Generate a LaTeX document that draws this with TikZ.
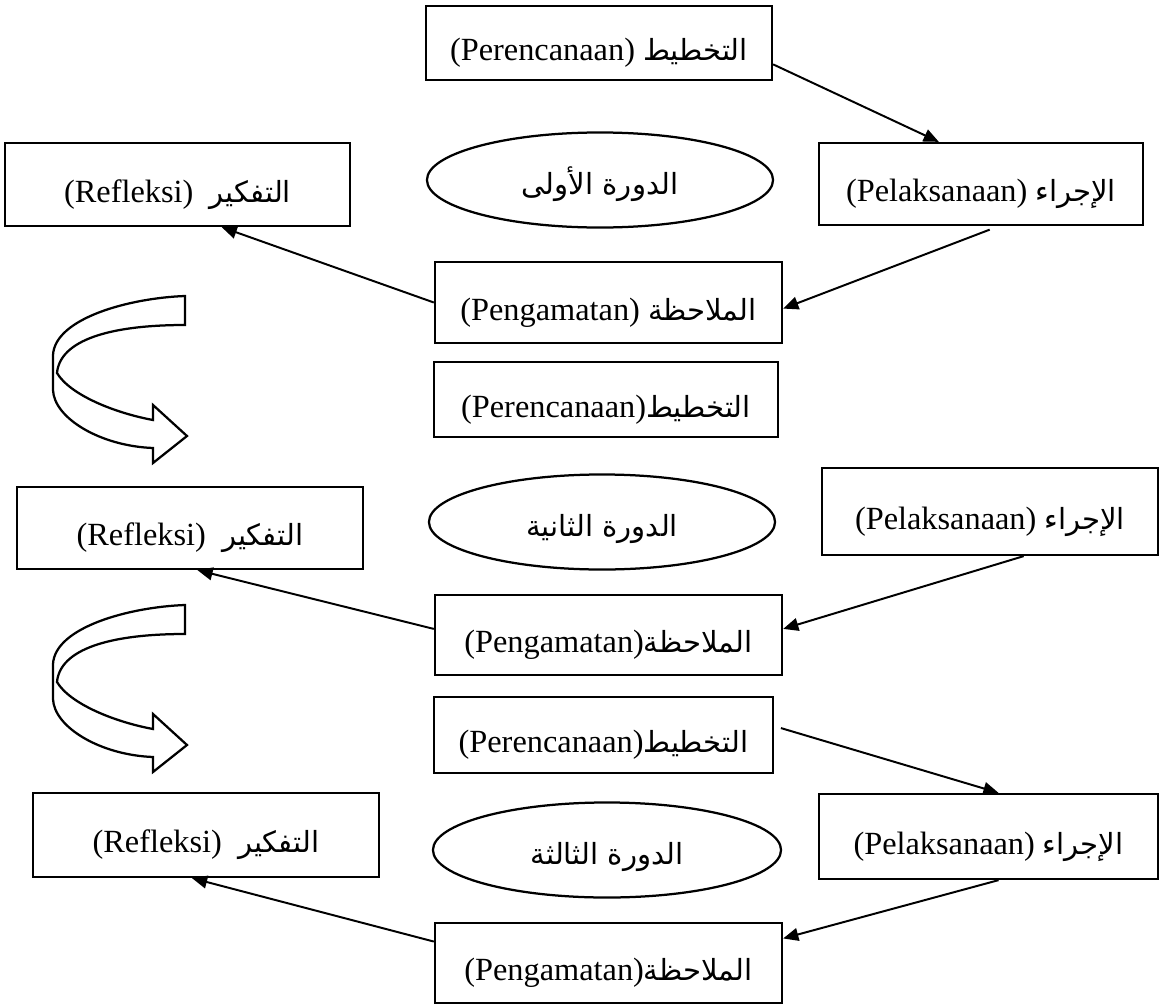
\documentclass[tikz,border=0pt]{standalone}
\usepackage{fontspec}
\setmainfont{Liberation Serif}
\newfontfamily\arabicfont[Script=Arabic,Scale=0.9]{DejaVu Sans}
\TeXXeTstate=1
\usetikzlibrary{arrows.meta,shapes.geometric}
\newcommand{\artext}[1]{{\arabicfont\beginR #1\endR}}

\begin{document}
\begin{tikzpicture}
  [x=0.025cm,y=-0.025cm,
   tahap/.style={draw,line width=1.6pt,rectangle,inner sep=0pt,
     text height=31pt,text depth=6pt,font=\fontsize{23}{28}\selectfont},
   siklus/.style={draw,line width=1.6pt,ellipse,inner sep=0pt,
     text height=24pt,text depth=4pt,
     minimum width=8.65cm,minimum height=2.375cm,font=\fontsize{23}{28}\selectfont},
   panah/.style={-{Triangle[length=0.38cm,width=0.32cm]},line width=1.4pt}]
  \useasboundingbox (0,0) rectangle (1159,1006);

  % siklus pertama
  \node[tahap,minimum width=8.65cm,minimum height=1.85cm] (P1) at (599,43)
    {(Perencanaan) \artext{التخطيط}};
  \node[tahap,minimum width=8.1cm,minimum height=2.05cm] (A1) at (981,184)
    {(Pelaksanaan) \artext{الإجراء}};
  \node[tahap,minimum width=8.625cm,minimum height=2.075cm] (R1) at (177.5,184.5)
    {(Refleksi)\ \ \artext{التفكير}};
  \node[tahap,minimum width=8.675cm,minimum height=2.025cm] (O1) at (608.5,302.5)
    {(Pengamatan) \artext{الملاحظة}};
  \node[siklus] (E1) at (600,180) {\artext{الدورة الأولى}};

  \draw[panah] (P1.-7) -- (A1.135);
  \draw[panah,shorten <=7pt] (A1.-67) -- (O1.-2);
  \draw[panah] (O1.west) -- (R1.-44);

  % siklus kedua
  \node[tahap,minimum width=8.6cm,minimum height=1.875cm] (P2) at (606,399.5)
    {(Perencanaan)\artext{التخطيط}};
  \node[tahap,minimum width=8.4cm,minimum height=2.175cm] (A2) at (990,511.5)
    {(Pelaksanaan) \artext{الإجراء}};
  \node[tahap,minimum width=8.65cm,minimum height=2.05cm] (R2) at (190,528)
    {(Refleksi)\ \ \artext{التفكير}};
  \node[tahap,minimum width=8.675cm,minimum height=2cm] (O2) at (608.5,635)
    {(Pengamatan)\artext{الملاحظة}};
  \node[siklus] (E2) at (602,522) {\artext{الدورة الثانية}};

  \draw[panah] (A2.-53) -- (O2.2);
  \draw[panah] (O2.178) -- (R2.-80);

  % siklus ketiga
  \node[tahap,minimum width=8.475cm,minimum height=1.9cm] (P3) at (603.5,735)
    {(Perencanaan)\artext{التخطيط}};
  \node[tahap,minimum width=8.475cm,minimum height=2.125cm] (A3) at (988.5,836.5)
    {(Pelaksanaan) \artext{الإجراء}};
  \node[tahap,minimum width=8.65cm,minimum height=2.1cm] (R3) at (206,835)
    {(Refleksi)\ \ \artext{التفكير}};
  \node[tahap,minimum width=8.675cm,minimum height=2cm] (O3) at (608.5,963)
    {(Pengamatan)\artext{الملاحظة}};
  \node[siklus,minimum width=8.7cm] (E3) at (607,850) {\artext{الدورة الثالثة}};

  \draw[panah,shorten <=5pt] (P3.3) -- (A3.77);
  \draw[panah] (A3.-77) -- (O3.8);
  \draw[panah] (O3.173) -- (R3.-108);

  % panah lengkung antar siklus
  \foreach \dy in {0,309}
    \draw[line width=1.6pt,fill=white,yshift=-\dy*0.025cm]
      (185,296) .. controls (130,298) and (55,318) .. (53,355)
      -- (53,390) .. controls (54,418) and (100,446) .. (153,448)
      -- (153,463) -- (187,436) -- (153,405) -- (153,420)
      .. controls (115,413) and (70,395) .. (57,373)
      .. controls (60,340) and (110,325) .. (185,325) -- cycle;
\end{tikzpicture}
\end{document}
